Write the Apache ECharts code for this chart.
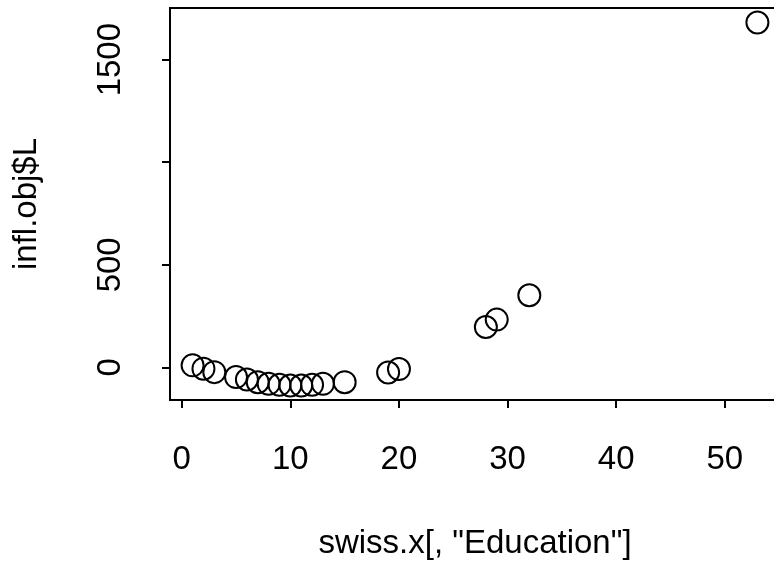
<!DOCTYPE html>
<html>
<head>
<meta charset="utf-8">
<script src="https://cdn.jsdelivr.net/npm/echarts@6/dist/echarts.min.js"></script>
<style>
  html, body { margin: 0; padding: 0; background: #ffffff; }
  #chart { width: 774px; height: 566px; }
</style>
</head>
<body>
<div id="chart"></div>
<script>
// Education level (one entry per distinct value) and the matching L values
var education = [1, 2, 3, 5, 6, 7, 8, 9, 10, 11, 12, 13, 15, 19, 20, 28, 29, 32, 53];
var lValues = [10, -6, -23, -47, -59, -72, -80, -85, -88, -88, -85, -80, -72, -25, -8, 197, 233, 352, 1681];

// Tick positions and the labels actually printed
var xTicks = [0, 10, 20, 30, 40, 50];
var yTicks = [0, 500, 1000, 1500];
var yTickLabels = [0, 500, 1500];

var points = education.map(function (e, i) { return [e, lValues[i]]; });

var FONT = '"Liberation Sans", Arial, Helvetica, sans-serif';
var FS = 33;
var plain = function (v) { return String(v); };

var chart = echarts.init(document.getElementById('chart'), null, { renderer: 'canvas' });

chart.setOption({
  backgroundColor: '#ffffff',
  animation: false,
  // plot box runs slightly past the right edge of the canvas
  grid: {
    left: 170, top: 8, width: 610, height: 392,
    containLabel: false,
    outerBoundsMode: 'none',
    show: true, borderColor: '#000000', borderWidth: 2, backgroundColor: 'transparent'
  },
  xAxis: {
    type: 'value',
    min: -1.08, max: 55.08,
    name: 'swiss.x[, "Education"]',
    nameLocation: 'middle',
    nameGap: 127,
    nameTextStyle: { color: '#000000', fontFamily: FONT, fontSize: FS },
    axisLine: { show: false, onZero: false },
    splitLine: { show: false },
    axisTick: { show: true, inside: false, length: 8, customValues: xTicks, lineStyle: { color: '#000000', width: 2 } },
    axisLabel: { show: true, margin: 43, customValues: xTicks, formatter: plain, color: '#000000', fontFamily: FONT, fontSize: FS }
  },
  yAxis: {
    type: 'value',
    min: -158.8, max: 1751.8,
    name: 'infl.obj$L',
    nameLocation: 'middle',
    nameGap: 127,
    nameTextStyle: { color: '#000000', fontFamily: FONT, fontSize: FS },
    axisLine: { show: false, onZero: false },
    splitLine: { show: false },
    axisTick: { show: true, inside: false, length: 8, customValues: yTicks, lineStyle: { color: '#000000', width: 2 } },
    axisLabel: { show: true, margin: 43, rotate: 90, customValues: yTickLabels, formatter: plain, color: '#000000', fontFamily: FONT, fontSize: FS }
  },
  series: [{
    type: 'scatter',
    data: points,
    symbol: 'circle',
    symbolSize: 22,
    itemStyle: { color: 'transparent', borderColor: '#000000', borderWidth: 2, opacity: 1 },
    emphasis: { disabled: true }
  }]
});
</script>
</body>
</html>
